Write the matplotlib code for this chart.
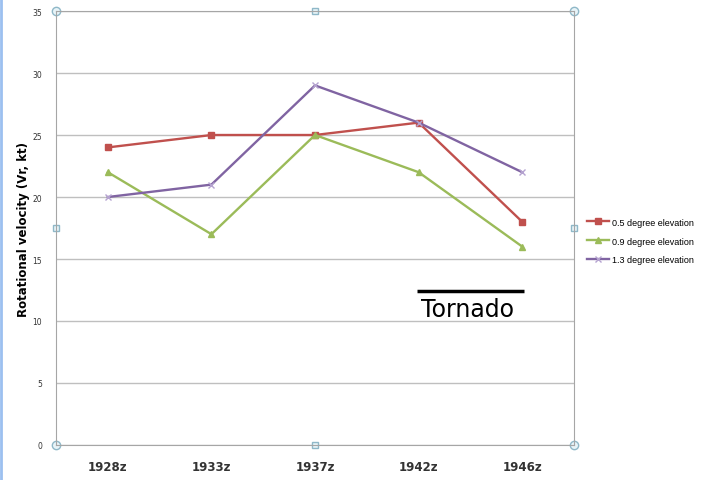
import matplotlib
matplotlib.use("Agg")
import matplotlib.pyplot as plt
from matplotlib.lines import Line2D

times = ["1928z", "1933z", "1937z", "1942z", "1946z"]
elev_05 = [24, 25, 25, 26, 18]
elev_09 = [22, 17, 25, 22, 16]
elev_13 = [20, 21, 29, 26, 22]
series_names = ["0.5 degree elevation", "0.9 degree elevation", "1.3 degree elevation"]
tornado_span = [2.98, 4.02]
tornado_level = 12.4

fig = plt.figure(figsize=(7.02, 4.81), dpi=100)
ax = fig.add_axes([0.0798, 0.0728, 0.7379, 0.9022])

x = list(range(len(times)))
ax.plot(x, elev_05, color="#c0504d", marker="s", markersize=5, linewidth=1.7, label=series_names[0])
ax.plot(x, elev_09, color="#9bbb59", marker="^", markersize=5, linewidth=1.7, label=series_names[1])
ax.plot(x, elev_13, color="#8064a2", marker="x", markersize=5, markeredgecolor="#b5a3d0",
        linewidth=1.7, label=series_names[2])

ax.set_xlim(-0.5, len(times) - 0.5)
ax.set_ylim(0, 35)
ax.set_yticks(range(0, 36, 5))
ax.set_xticks(x)
ax.set_xticklabels(times, fontsize=8.5, fontweight="bold", color="#333333")
ax.tick_params(axis="y", labelsize=5.5, length=0, pad=10, colors="#333333")
ax.tick_params(axis="x", length=0, pad=11)
ax.yaxis.grid(True, color="#bfbfbf", linewidth=1)
ax.set_axisbelow(True)
for side in ["left", "right", "top", "bottom"]:
    ax.spines[side].set_color("#a6a6a6")
ax.set_ylabel("Rotational velocity (Vr, kt)", fontsize=8.5, fontweight="bold", labelpad=2)

# tornado bar
ax.plot(tornado_span, [tornado_level, tornado_level], color="black", linewidth=2.5, solid_capstyle="butt")
ax.text(sum(tornado_span) / 2 - 0.03, tornado_level - 0.5, "Tornado", ha="center", va="top", fontsize=17)

ax.legend(loc="center left", bbox_to_anchor=(1.01, 0.47), frameon=False,
          prop={"family": "Liberation Sans", "size": 6.5},
          handlelength=2.4, handletextpad=0.3, labelspacing=1.1, markerscale=0.8)

# selection handles
for hx, hy in [(0, 1), (1, 1), (0, 0), (1, 0)]:
    ax.plot(hx, hy, marker="o", markersize=6, markerfacecolor="#e8f4f8", markeredgecolor="#8fb8c8",
            transform=ax.transAxes, clip_on=False)
for hx, hy in [(0.5, 1), (0.5, 0), (0, 0.5), (1, 0.5)]:
    ax.plot(hx, hy, marker="s", markersize=5, markerfacecolor="#e8f4f8", markeredgecolor="#8fb8c8",
            transform=ax.transAxes, clip_on=False)

# blue window edge on the left
fig.add_artist(Line2D([0.002, 0.002], [0, 1], transform=fig.transFigure, color="#9cc0f0", linewidth=2))

fig.savefig("out.png", dpi=100)
